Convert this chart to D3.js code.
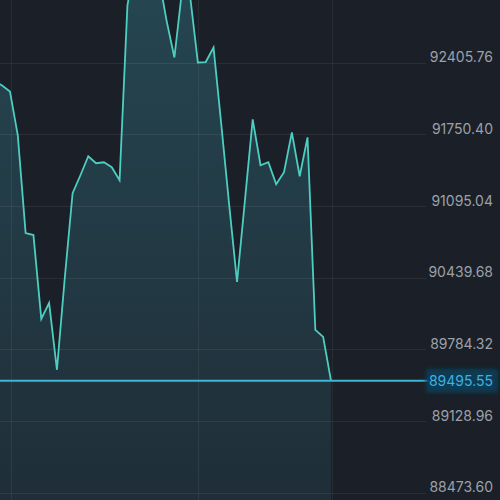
<!DOCTYPE html>
<html>
<head>
<meta charset="utf-8">
<script src="https://cdn.jsdelivr.net/npm/d3@7/dist/d3.min.js"></script>
<style>
  html, body { margin: 0; padding: 0; background: #1b1f27; }
  svg { display: block; }
</style>
</head>
<body>
<svg id="chart" width="500" height="500"></svg>
<script>
// ---- data ----
const pointIndex = d3.range(44);
const prices = [
  92232.4, 92195.9, 92141.2, 91739.8, 90845.7, 90827.5, 90061.1, 90207.0,
  89595.8, 90435.1, 91210.6, 91374.8, 91548.2, 91484.3, 91493.4, 91447.8,
  91329.2, 92925.8, 93336.4, 93518.9, 93382.0, 93190.4, 92789.0, 92451.4,
  93080.9, 93017.1, 92405.8, 92410.0, 92542.6, 91831.0, 91101.2, 90398.7,
  91137.6, 91885.7, 91466.1, 91493.4, 91292.7, 91402.2, 91767.2, 91365.7,
  91721.5, 89960.7, 89896.9, 89495.55
];
const yTicks = [92405.76, 91750.40, 91095.04, 90439.68, 89784.32, 89128.96, 88473.60];
const xGridIndex = [2.15, 26, 43.1];
const currentPrice = 89495.55;

// ---- layout ----
const W = 500, H = 500;
const plotRight = 426;
const svg = d3.select("#chart");

const x = d3.scaleLinear().domain([0, 43]).range([-5.7, 331]);
const y = d3.scaleLinear().domain([88473.60, 92405.76]).range([492.5, 62.5]);

const defs = svg.append("defs");
const grad = defs.append("linearGradient")
  .attr("id", "areaGrad")
  .attr("gradientUnits", "userSpaceOnUse")
  .attr("x1", 0).attr("x2", 0)
  .attr("y1", 0).attr("y2", 520);
grad.append("stop").attr("offset", "0%").attr("stop-color", "#254550");
grad.append("stop").attr("offset", "100%").attr("stop-color", "#1f2d37");

const glow = defs.append("filter").attr("id", "glow")
  .attr("x", "-30%").attr("y", "-60%").attr("width", "160%").attr("height", "220%");
glow.append("feGaussianBlur").attr("stdDeviation", 2.2);

svg.append("rect").attr("width", W).attr("height", H).attr("fill", "#1b1f27");

// area
const area = d3.area()
  .x((d, i) => x(i))
  .y0(H + 20)
  .y1(d => y(d));
svg.append("path").datum(prices)
  .attr("d", area)
  .attr("fill", "url(#areaGrad)");

// grid
svg.append("g").selectAll("line.h").data(yTicks).join("line")
  .attr("x1", 0).attr("x2", plotRight)
  .attr("y1", d => Math.round(y(d)) + 0.5).attr("y2", d => Math.round(y(d)) + 0.5)
  .attr("stroke", "#ffffff").attr("stroke-opacity", 0.07).attr("stroke-width", 1);
svg.append("g").selectAll("line.v").data(xGridIndex).join("line")
  .attr("x1", d => Math.round(x(d)) + 0.5).attr("x2", d => Math.round(x(d)) + 0.5)
  .attr("y1", 0).attr("y2", H)
  .attr("stroke", "#ffffff").attr("stroke-opacity", 0.06).attr("stroke-width", 1);

// line
const line = d3.line().x((d, i) => x(i)).y(d => y(d));
svg.append("path").datum(prices)
  .attr("d", line)
  .attr("fill", "none")
  .attr("stroke", "#4ccfc0")
  .attr("stroke-width", 1.8)
  .attr("stroke-linejoin", "miter");

// axis labels
const yAxis = d3.axisRight(y).tickValues(yTicks).tickSize(0).tickPadding(0)
  .tickFormat(d => d.toFixed(2));
const gAxis = svg.append("g").attr("transform", "translate(493,0)").call(yAxis);
gAxis.select(".domain").remove();
gAxis.selectAll("text")
  .attr("text-anchor", "end")
  .attr("dy", "-0.05em")
  .attr("fill", "#9ba1aa")
  .style("font-family", "Inter, 'Liberation Sans', sans-serif")
  .style("font-size", "14px");

// current price line + label
const cy = y(currentPrice);
svg.append("line")
  .attr("x1", 0).attr("x2", 430)
  .attr("y1", cy).attr("y2", cy)
  .attr("stroke", "#3db7d6").attr("stroke-width", 2.2);
svg.append("rect")
  .attr("x", 426).attr("y", cy - 12).attr("width", 72).attr("height", 24).attr("rx", 2)
  .attr("fill", "#0c3b52").attr("filter", "url(#glow)");
svg.append("text")
  .attr("x", 493).attr("y", cy)
  .attr("dy", "0.36em")
  .attr("text-anchor", "end")
  .attr("fill", "#3cb2e2")
  .style("font-family", "Inter, 'Liberation Sans', sans-serif")
  .style("font-size", "14px")
  .text(currentPrice.toFixed(2));
</script>
</body>
</html>
